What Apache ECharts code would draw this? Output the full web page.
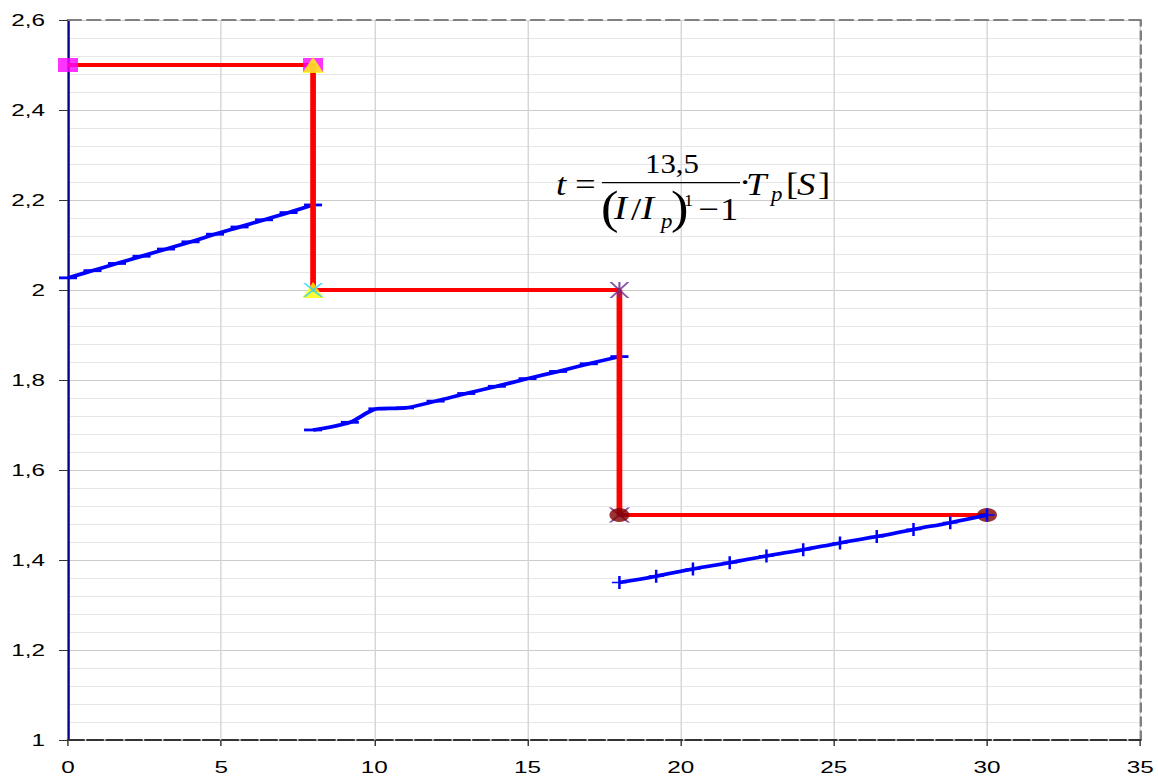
<!DOCTYPE html>
<html>
<head>
<meta charset="utf-8">
<script src="https://cdn.jsdelivr.net/npm/echarts@6/dist/echarts.min.js"></script>
<style>
  html, body { margin: 0; padding: 0; background: #fff; overflow: hidden; }
  #wrap { width: 1158px; height: 781px; overflow: hidden; }
  /* the drawing is laid out on a narrower canvas and widened horizontally */
  #chart { width: 810px; height: 781px; transform: scaleX(1.42963); transform-origin: 0 0; }
</style>
</head>
<body>
<div id="wrap"><div id="chart"></div></div>
<script>
// ---- data ----
const xTickValues = [0, 5, 10, 15, 20, 25, 30, 35];
const xTickLabels = ['0', '5', '10', '15', '20', '25', '30', '35'];
const yTickValues = [1, 1.2, 1.4, 1.6, 1.8, 2, 2.2, 2.4, 2.6];
const yTickLabels = ['1', '1,2', '1,4', '1,6', '1,8', '2', '2,2', '2,4', '2,6'];

// stepped selectivity characteristic
const stepX = [0, 8, 8, 18, 18, 30];
const stepY = [2.5, 2.5, 2.0, 2.0, 1.5, 1.5];

// time-current curves
const curve1X = [0, 0.8, 1.6, 2.4, 3.2, 4, 4.8, 5.6, 6.4, 7.2, 8];
const curve1Y = [2.027, 2.043, 2.059, 2.075, 2.091, 2.107, 2.124, 2.140, 2.156, 2.172, 2.189];
const curve2X = [8, 9.2, 10.1, 11, 12, 13, 14, 15, 16, 17, 18];
const curve2Y = [1.689, 1.706, 1.736, 1.738, 1.753, 1.770, 1.786, 1.803, 1.819, 1.836, 1.852];
const curve3X = [18, 19.2, 20.4, 21.6, 22.8, 24, 25.2, 26.4, 27.6, 28.8, 30];
const curve3Y = [1.350, 1.364, 1.380, 1.394, 1.409, 1.423, 1.438, 1.452, 1.468, 1.483, 1.500];

// corner points of the step line
const squareX = [0, 8];        const squareY = [2.5, 2.5];
const triangleX = [8, 8];      const triangleY = [2.5, 2.0];
const crossX = [8];            const crossY = [2.0];
const starX = [18];            const starY = [2.0];
const purpleCrossX = [18];     const purpleCrossY = [1.5];
const dotX = [18, 30];         const dotY = [1.5, 1.5];

const zip = (xs, ys) => xs.map((x, i) => [x, ys[i]]);
const tickLabel = (values, labels) => v => {
  let best = 0;
  values.forEach((t, i) => { if (Math.abs(t - v) < Math.abs(values[best] - v)) best = i; });
  return Math.abs(values[best] - v) < 1e-6 ? labels[best] : '';
};

// ---- symbols ----
const CROSS = 'path://M0,0h2.6l7.4,5.8l7.4,-5.8h2.6l-8.6,7l8.6,7h-2.6l-7.4,-5.8l-7.4,5.8h-2.6l8.6,-7z';
const STAR = CROSS + ' M8.9,0h2.2v14h-2.2z';
const PLUS = 'path://M4.5,0h1.8v14h-1.8z M0,6.1h10.8v1.8h-10.8z';

const SX = 1158 / 810;
const px = v => v / SX;

// ---- formula  t = 13,5 / ((I/Ip)^1 - 1) · Tp[S] ----
const SERIF = 'Liberation Serif';
function glyph(text, left, baseline, size, italic) {
  return {
    type: 'text', x: px(left), y: baseline - 0.3 * size, scaleX: 0.8, z: 100,
    style: {
      text: text, fill: '#000', fontFamily: SERIF, fontSize: size,
      fontStyle: italic ? 'italic' : 'normal', align: 'left', verticalAlign: 'middle'
    }
  };
}
const formula = [
  glyph('t', 556, 193, 32, true),
  glyph('=', 575, 193, 32, false),
  { type: 'rect', z: 100, shape: { x: px(602), y: 182, width: px(740) - px(602), height: 1.3 }, style: { fill: '#000' } },
  glyph('13,5', 645, 172, 27, false),
  glyph('(', 601, 221, 46, false),
  glyph('I', 614, 218, 34, true),
  glyph('/', 631, 218, 32, false),
  glyph('I', 641, 218, 34, true),
  glyph('p', 661, 227, 20, true),
  glyph(')', 671, 221, 46, false),
  glyph('1', 684, 206, 16, false),
  glyph('\u2212', 698, 218, 32, false),
  glyph('1', 720, 218, 32, false),
  glyph('\u00b7', 739, 191, 32, false),
  glyph('T', 746, 193, 32, true),
  glyph('p', 771, 200, 20, true),
  glyph('[', 786, 193, 32, false),
  glyph('S', 797, 193, 32, true),
  glyph(']', 818, 193, 32, false)
];

const chart = echarts.init(document.getElementById('chart'), null, { renderer: 'svg' });

const labelFont = { fontFamily: 'Liberation Sans', fontSize: 17, color: '#000' };

chart.setOption({
  animation: false,
  backgroundColor: '#fff',
  grid: { left: px(68), right: px(16), top: 20, bottom: 41, containLabel: false },
  xAxis: [
    {
      type: 'value', min: 0, max: 35, interval: 5,
      axisLine: { show: true, onZero: false, lineStyle: { color: '#333', width: 2, type: [11, 2.5] } },
      axisTick: { show: true, length: 6, lineStyle: { color: '#333', width: 1 } },
      axisLabel: Object.assign({ margin: 18, formatter: tickLabel(xTickValues, xTickLabels) }, labelFont),
      splitLine: { show: true, lineStyle: { color: '#d6d6d6', width: 1 } }
    },
    {
      type: 'value', position: 'top', min: 0, max: 35, interval: 5,
      axisLine: { show: true, onZero: false, lineStyle: { color: '#808080', width: 2, type: [9, 4.5] } },
      axisTick: { show: false }, axisLabel: { show: false }, splitLine: { show: false }
    }
  ],
  yAxis: [
    {
      type: 'value', min: 1, max: 2.6, interval: 0.2,
      axisLine: { show: true, onZero: false, lineStyle: { color: '#000080', width: 1.6 } },
      axisTick: { show: true, length: 6.3, lineStyle: { color: '#333', width: 1 } },
      axisLabel: Object.assign({ margin: 16, formatter: tickLabel(yTickValues, yTickLabels) }, labelFont),
      splitLine: { show: true, lineStyle: { color: '#cccccc', width: 1 } },
      minorTick: { show: false, splitNumber: 5 },
      minorSplitLine: { show: true, lineStyle: { color: '#e6e6e6', width: 1 } }
    },
    {
      type: 'value', position: 'right', min: 1, max: 2.6, interval: 0.2,
      axisLine: { show: true, onZero: false, lineStyle: { color: '#808080', width: 1.6, type: [9, 5] } },
      axisTick: { show: false }, axisLabel: { show: false }, splitLine: { show: false }
    }
  ],
  graphic: formula,
  series: [
    {
      type: 'line', data: zip(curve1X, curve1Y), smooth: 0.4, z: 2,
      symbol: 'rect', symbolSize: [12.6, 2.8], showSymbol: true,
      itemStyle: { color: '#0000ff' }, lineStyle: { color: '#0000ff', width: 3.6 }
    },
    {
      type: 'line', data: zip(curve2X, curve2Y), smooth: 0.3, z: 2,
      symbol: 'rect', symbolSize: [12.6, 2.8],
      itemStyle: { color: '#0000ff' }, lineStyle: { color: '#0000ff', width: 3.6 }
    },
    {
      type: 'line', data: zip(stepX, stepY), symbol: 'none', z: 3,
      lineStyle: { color: '#ff0000', width: 4 }
    },
    {
      type: 'scatter', data: zip(squareX, squareY), symbol: 'rect', symbolSize: [14, 14], z: 4,
      itemStyle: { color: '#ff00ff' }
    },
    {
      type: 'scatter', data: zip(triangleX, triangleY), symbol: 'triangle', symbolSize: [15, 16], z: 5,
      itemStyle: { color: '#ffff00' }
    },
    {
      type: 'scatter', data: zip(crossX, crossY), symbol: CROSS, symbolSize: [14, 14], z: 6,
      itemStyle: { color: '#22d4ff' }
    },
    {
      type: 'scatter', data: zip(starX, starY), symbol: STAR, symbolSize: [14, 16], z: 6,
      itemStyle: { color: '#6a2c91' }
    },
    {
      type: 'scatter', data: zip(purpleCrossX, purpleCrossY), symbol: CROSS, symbolSize: [15, 15], z: 4,
      itemStyle: { color: '#6a2c91' }
    },
    {
      type: 'scatter', data: zip(dotX, dotY), symbol: 'circle', symbolSize: [14, 14], z: 5,
      itemStyle: { color: '#800000' }
    },
    {
      type: 'line', data: zip(curve3X, curve3Y), smooth: 0.4, z: 6,
      symbol: PLUS, symbolSize: [10.5, 13],
      itemStyle: { color: '#0000ff' }, lineStyle: { color: '#0000ff', width: 3.6 }
    }
  ]
});
</script>
</body>
</html>
